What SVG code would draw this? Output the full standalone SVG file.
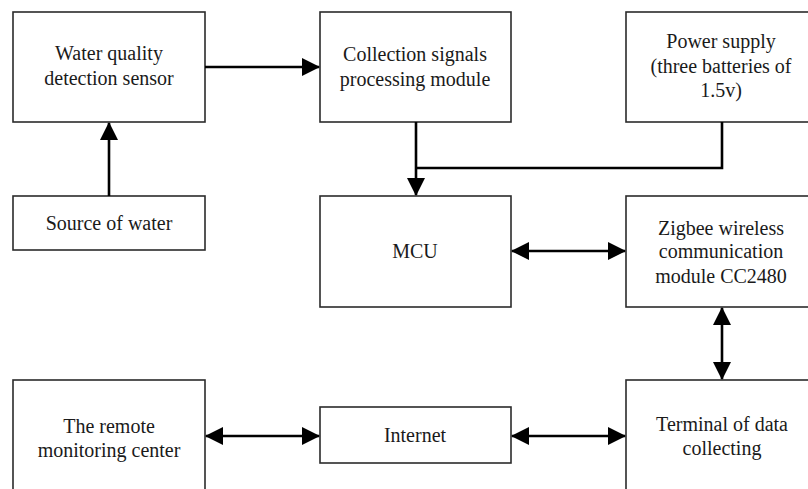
<svg xmlns="http://www.w3.org/2000/svg" width="808" height="489" viewBox="0 0 808 489">
<defs>
<style>
.box{fill:#fff;stroke:#2b2b2b;stroke-width:1.6}
.t{font-family:"Liberation Serif","Times New Roman",serif;font-size:20px;fill:#1a1a1a;text-anchor:middle}
.c{fill:none;stroke:#000;stroke-width:2.6}
</style>
<marker id="ah" viewBox="0 0 18 18" refX="17" refY="9" markerWidth="18" markerHeight="18" markerUnits="userSpaceOnUse" orient="auto-start-reverse">
<path d="M0,0 L18,9 L0,18 z" fill="#000"/>
</marker>
</defs>
<rect width="808" height="489" fill="#fff"/>
<g id="water-sensor"><rect class="box" x="13" y="12" width="192" height="110"/><text class="t" x="109" y="60">Water quality</text><text class="t" x="109" y="85">detection sensor</text></g>
<g id="collection"><rect class="box" x="320" y="12" width="191" height="110"/><text class="t" x="415" y="61">Collection signals</text><text class="t" x="415" y="86">processing module</text></g>
<g id="power"><rect class="box" x="626" y="12" width="200" height="110"/><text class="t" x="721" y="48">Power supply</text><text class="t" x="721" y="73">(three batteries of</text><text class="t" x="721" y="97">1.5v)</text></g>
<g id="source"><rect class="box" x="13" y="196" width="192" height="54"/><text class="t" x="109" y="230">Source of water</text></g>
<g id="mcu"><rect class="box" x="320" y="196" width="191" height="111"/><text class="t" x="415" y="258">MCU</text></g>
<g id="zigbee"><rect class="box" x="626" y="196" width="200" height="111"/><text class="t" x="721" y="235">Zigbee wireless</text><text class="t" x="721" y="258">communication</text><text class="t" x="721" y="283">module CC2480</text></g>
<g id="remote"><rect class="box" x="13" y="380" width="192" height="120"/><text class="t" x="109" y="433">The remote</text><text class="t" x="109" y="457">monitoring center</text></g>
<g id="internet"><rect class="box" x="320" y="407" width="191" height="56"/><text class="t" x="415" y="442">Internet</text></g>
<g id="terminal"><rect class="box" x="626" y="380" width="200" height="120"/><text class="t" x="722" y="431">Terminal of data</text><text class="t" x="722" y="455">collecting</text></g>
<g id="connectors">
<path class="c" d="M205,67 H319" marker-end="url(#ah)"/>
<path class="c" d="M109,196 V123" marker-end="url(#ah)"/>
<path class="c" d="M416,122 V195" marker-end="url(#ah)"/>
<path class="c" d="M722,122 V168 H416"/>
<path class="c" d="M512,251 H625" marker-start="url(#ah)" marker-end="url(#ah)"/>
<path class="c" d="M722,308 V379" marker-start="url(#ah)" marker-end="url(#ah)"/>
<path class="c" d="M206,436 H319" marker-start="url(#ah)" marker-end="url(#ah)"/>
<path class="c" d="M512,436 H625" marker-start="url(#ah)" marker-end="url(#ah)"/>
</g>
</svg>
